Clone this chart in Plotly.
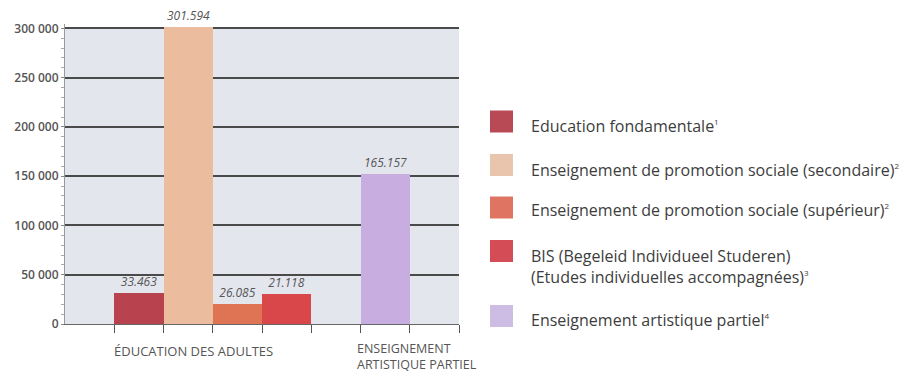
import plotly.graph_objects as go

# ---- data ----
series_names = [
    "Education fondamentale",
    "Enseignement de promotion sociale (secondaire)",
    "Enseignement de promotion sociale (supérieur)",
    "BIS (Begeleid Individueel Studeren)<br>(Etudes individuelles accompagnées)",
    "Enseignement artistique partiel",
]
footnotes = ["1", "2", "2", "3", "4"]
bar_heights = [31300, 301600, 20400, 30300, 152000]
value_labels = ["33.463", "301.594", "26.085", "21.118", "165.157"]
series_group = [0, 0, 0, 0, 1]
groups = ["ÉDUCATION DES ADULTES", "ENSEIGNEMENT<br>ARTISTIQUE PARTIEL"]
y_tickvals = [0, 50000, 100000, 150000, 200000, 250000, 300000]
y_ticktext = ["0", "50 000", "100 000", "150 000", "200 000", "250 000", "300 000"]

# ---- style ----
colors = ["#b8434e", "#ebbc9d", "#df7454", "#d9474b", "#c8ade0"]
legend_colors = ["#b84a55", "#e9c5ae", "#df7462", "#d44c56", "#cdbde4"]
group_start_slot = [1, 6]
n_slots = 8
FONT = "Open Sans"

W, H = 909, 372
ml, mr, mt, mb = 65, W - 459, 24, 48
plot_w = W - ml - mr
plot_h = H - mt - mb
y_top_value = 300000 * plot_h / (324 - 28.3)

fig = go.Figure()
slot_counter = {}
for i, name in enumerate(series_names):
    g = series_group[i]
    k = slot_counter.get(g, 0)
    slot_counter[g] = k + 1
    xpos = group_start_slot[g] + k + 0.5
    fig.add_trace(go.Bar(
        x=[xpos], y=[bar_heights[i]], width=[1.0],
        marker=dict(color=colors[i], line=dict(width=0)),
        text=[value_labels[i]], textposition="outside",
        textfont=dict(family=FONT, size=12, color="#555", style="italic"),
        cliponaxis=False, name=name, showlegend=False, hoverinfo="skip",
    ))


def px_to_paper_x(px):
    return (px - ml) / plot_w


def px_to_paper_y(py):
    return (H - mb - py) / plot_h


# white strip above the top gridline (reference background starts at the 300 000 line)
fig.add_shape(type="rect", xref="paper", yref="paper",
              x0=0, x1=1, y0=px_to_paper_y(27.6), y1=1.0,
              fillcolor="white", line=dict(width=0), layer="below")

# custom legend
swatch_centers = [121.5, 165, 207.5, 251, 316]
text_offsets = [4, 5, 3, 15, 4]
for i, name in enumerate(series_names):
    cy = swatch_centers[i]
    fig.add_shape(type="rect", xref="paper", yref="paper",
                  x0=px_to_paper_x(490), x1=px_to_paper_x(513),
                  y0=px_to_paper_y(cy + 11), y1=px_to_paper_y(cy - 11),
                  fillcolor=legend_colors[i], line=dict(width=0), layer="above")
    label = name + "<sup><span style='font-size:8px'>" + footnotes[i] + "</span></sup>"
    fig.add_annotation(xref="paper", yref="paper",
                       x=px_to_paper_x(529), y=px_to_paper_y(cy + text_offsets[i]),
                       text=label, showarrow=False, xanchor="left", yanchor="middle",
                       align="left",
                       font=dict(family=FONT, size=16, color="#3d3d3d"))

# group labels
fig.add_annotation(xref="x", yref="paper", x=2.6, y=px_to_paper_y(351),
                   text=groups[0], showarrow=False, xanchor="center", yanchor="middle",
                   font=dict(family=FONT, size=13, color="#555"))
fig.add_annotation(xref="x", yref="paper", x=5.88, y=px_to_paper_y(356),
                   text=groups[1], showarrow=False, xanchor="left", yanchor="middle",
                   align="left",
                   font=dict(family=FONT, size=12.5, color="#555"))

fig.update_layout(
    width=W, height=H,
    margin=dict(l=ml, r=mr, t=mt, b=mb, pad=0),
    paper_bgcolor="white", plot_bgcolor="#e4e6ee",
    bargap=0, barmode="overlay",
    showlegend=False,
    xaxis=dict(range=[0, n_slots], tickvals=list(range(1, n_slots + 1)),
               showticklabels=False, ticks="outside", ticklen=8, tickwidth=1.2,
               tickcolor="#555", showgrid=False, zeroline=False,
               showline=True, linecolor="#666", linewidth=1.2, fixedrange=True),
    yaxis=dict(range=[0, y_top_value], tickvals=y_tickvals, ticktext=y_ticktext,
               ticks="outside", ticklen=3, tickcolor="#888",
               tickfont=dict(family=FONT, size=12, color="#555", weight=600),
               showgrid=True, gridcolor="#4a4a4a", gridwidth=1.5,
               zeroline=False, showline=True, linecolor="#999", linewidth=1,
               minor=dict(dtick=10000, ticks="outside", ticklen=3, tickcolor="#aaa",
                          showgrid=False),
               fixedrange=True),
    font=dict(family=FONT),
)

fig.write_html("out.html")
